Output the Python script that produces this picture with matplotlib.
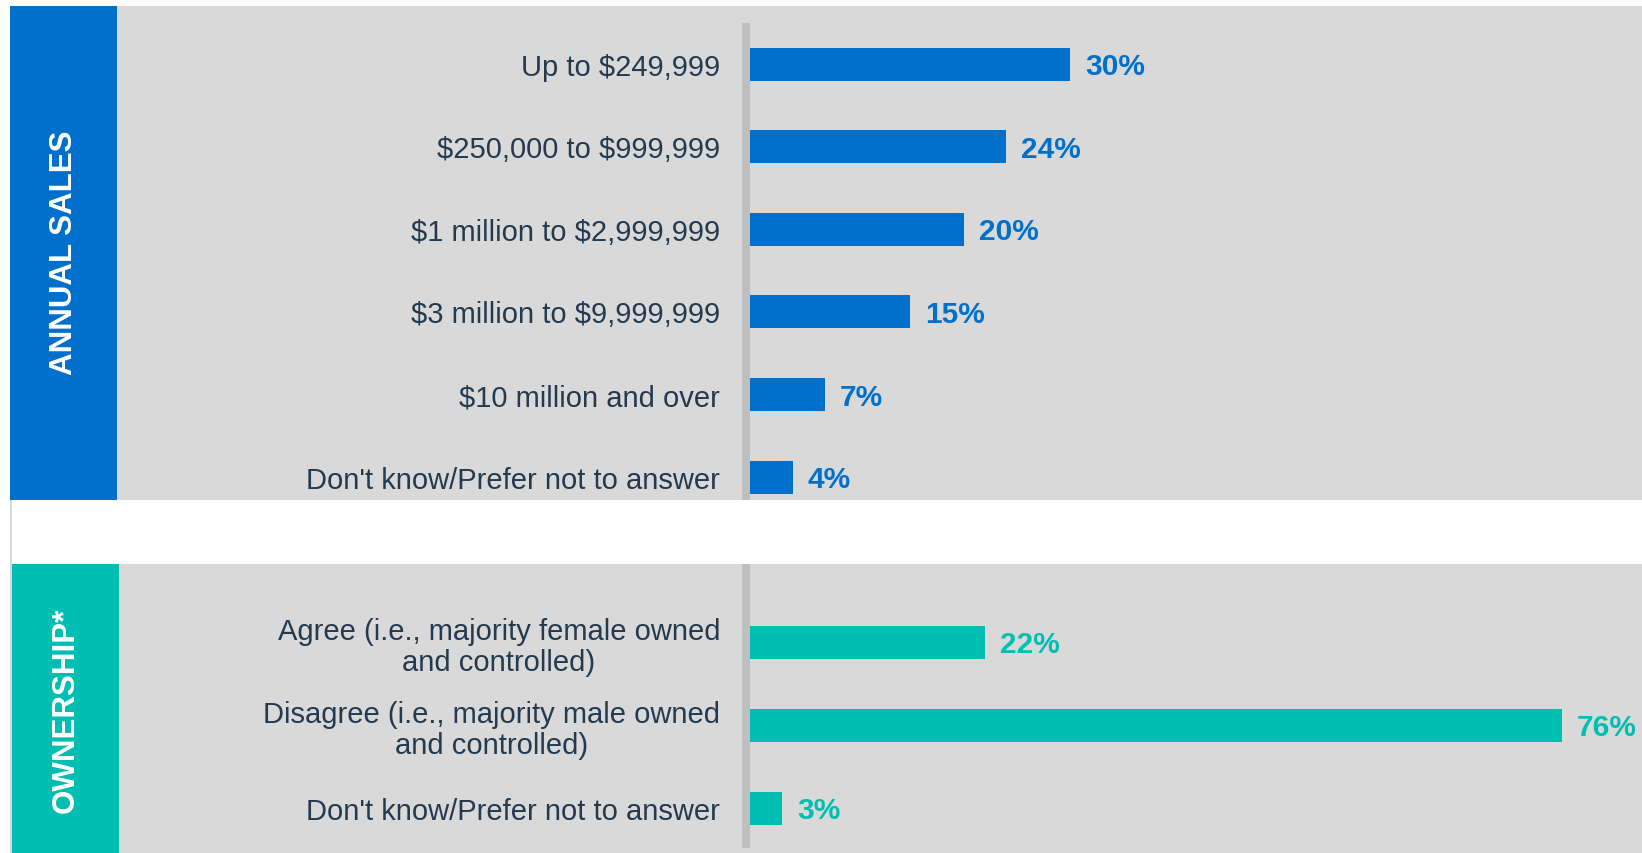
import matplotlib
matplotlib.use("Agg")
import matplotlib.pyplot as plt
from matplotlib.patches import Rectangle

plt.rcParams["font.family"] = ["Liberation Sans", "DejaVu Sans"]
plt.rcParams["text.parse_math"] = False

# Survey data
sales_labels = [
    "Up to $249,999",
    "$250,000 to $999,999",
    "$1 million to $2,999,999",
    "$3 million to $9,999,999",
    "$10 million and over",
    "Don't know/Prefer not to answer",
]
sales_pct = [30, 24, 20, 15, 7, 4]

own_labels = [
    "Agree (i.e., majority female owned\nand controlled)",
    "Disagree (i.e., majority male owned\nand controlled)",
    "Don't know/Prefer not to answer",
]
own_pct = [22, 76, 3]

section_titles = ["ANNUAL SALES", "OWNERSHIP*"]

# Styling
W, H = 1642, 853
BLUE = "#0070cc"
TEAL = "#00bfb2"
PANEL = "#d9d9d9"
AXIS_GREY = "#bfbfbf"
LABEL_COLOR = "#243a4f"

fig = plt.figure(figsize=(W / 100, (H + 0.5) / 100), dpi=100)
fig.patch.set_facecolor("white")


def px_rect(x0, y0, x1, y1, color, z=0):
    """Rectangle given in pixel coordinates measured from the top-left corner."""
    r = Rectangle((x0 / W, 1 - y1 / H), (x1 - x0) / W, (y1 - y0) / H,
                  transform=fig.transFigure, facecolor=color,
                  edgecolor="none", zorder=z)
    fig.add_artist(r)


def px_axes(x0, y0, x1, y1):
    return fig.add_axes([x0 / W, 1 - y1 / H, (x1 - x0) / W, (y1 - y0) / H])


# Panel backgrounds and section tabs
px_rect(10, 6, W, 500, PANEL)
px_rect(10, 6, 117, 500, BLUE, 1)
px_rect(10, 500, 12, H, PANEL)
px_rect(12, 564, W, H, PANEL)
px_rect(12, 564, 119, H, TEAL, 1)

# Vertical baseline strips
px_rect(742, 23, 750, 500, AXIS_GREY, 2)
px_rect(742, 564, 750, 848, AXIS_GREY, 2)

# Section titles
fig.text(63.5 / W, 1 - 253 / H, section_titles[0], rotation=90, color="white",
         fontsize=22.5, fontweight="bold", ha="center", va="center", zorder=3)
fig.text(65.5 / W, 1 - 710 / H, section_titles[1], rotation=90, color="white",
         fontsize=22.5, fontweight="bold", ha="center", va="center", zorder=3)

PX_PER_PCT = 10.68
XMAX = (W - 750) / PX_PER_PCT


def draw_section(ax, labels, values, color, first_center, step, top, bottom):
    n = len(values)
    pos = list(range(n))
    ax.set_facecolor("none")
    ax.barh(pos, values, height=33 / step, color=color, zorder=3)
    ax.set_xlim(0, XMAX)
    ax.set_ylim((bottom - first_center) / step, (top - first_center) / step)
    ax.set_yticks(pos)
    ax.set_yticklabels(labels, fontsize=21, color=LABEL_COLOR,
                       multialignment="center", linespacing=1.15)
    ax.tick_params(axis="y", length=0, pad=21.6)
    ax.set_xticks([])
    for s in ax.spines.values():
        s.set_visible(False)
    for p, v in zip(pos, values):
        ax.text(v + 15 / PX_PER_PCT, p + 2.5 / step, f"{v}%", color=color,
                fontsize=21.5, fontweight="bold", ha="left", va="center")


ax_top = px_axes(750, 6, W, 500)
draw_section(ax_top, sales_labels, sales_pct, BLUE, 64.5, 82.6, 6, 500)

ax_bot = px_axes(750, 564, W, H)
draw_section(ax_bot, own_labels, own_pct, TEAL, 642.5, 83.0, 564, H)

fig.savefig("out.png", dpi=100, facecolor=fig.get_facecolor())
